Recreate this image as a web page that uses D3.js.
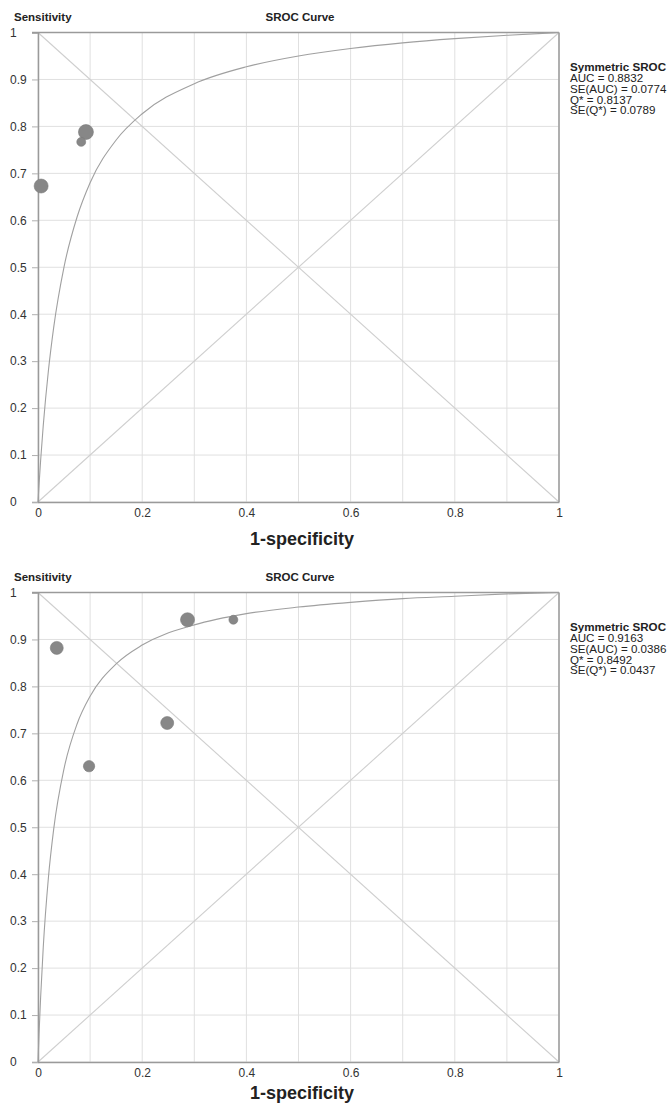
<!DOCTYPE html>
<html>
<head>
<meta charset="utf-8">
<script src="https://cdn.jsdelivr.net/npm/d3@7"></script>
<style>
  html, body { margin: 0; padding: 0; background: #fff; }
  svg { display: block; font-family: "Liberation Sans", Arial, sans-serif; }
</style>
</head>
<body>
<svg id="chart" width="670" height="1104"></svg>
<script>
// ---------- data ----------
const xTickValues = [0, 0.2, 0.4, 0.6, 0.8, 1];
const xTickLabels = ["0", "0.2", "0.4", "0.6", "0.8", "1"];
const yTickValues = [0, 0.1, 0.2, 0.3, 0.4, 0.5, 0.6, 0.7, 0.8, 0.9, 1];
const yTickLabels = ["0", "0.1", "0.2", "0.3", "0.4", "0.5", "0.6", "0.7", "0.8", "0.9", "1"];

const titleText = "SROC Curve";
const yAxisTitle = "Sensitivity";
const xAxisTitle = "1-specificity";
const legendTitle = "Symmetric SROC";

// SROC curve points (1-specificity, sensitivity)
const curveFpr  = [0, 0.002, 0.005, 0.01, 0.02, 0.03, 0.05, 0.075, 0.1, 0.15, 0.2, 0.3, 0.4, 0.5, 0.6, 0.7, 0.8, 0.9, 1];
const curve1Sens = [0, 0.037, 0.088, 0.162, 0.280, 0.371, 0.501, 0.607, 0.680, 0.771, 0.827, 0.891, 0.927, 0.950, 0.966, 0.978, 0.987, 0.994, 1];
const curve2Sens = [0, 0.060, 0.137, 0.243, 0.393, 0.495, 0.625, 0.720, 0.779, 0.848, 0.888, 0.931, 0.955, 0.969, 0.979, 0.987, 0.992, 0.997, 1];

// studies: 1-specificity, sensitivity, weight
const studies1Fpr    = [0.092, 0.083, 0.006];
const studies1Sens   = [0.788, 0.767, 0.673];
const studies1Weight = [56, 20, 49];

const studies2Fpr    = [0.036, 0.287, 0.375, 0.248, 0.098];
const studies2Sens   = [0.882, 0.942, 0.942, 0.722, 0.630];
const studies2Weight = [42, 49, 20, 42, 32];

const legend1Lines = ["AUC = 0.8832", "SE(AUC) = 0.0774", "Q* = 0.8137", "SE(Q*) = 0.0789"];
const legend2Lines = ["AUC = 0.9163", "SE(AUC) = 0.0386", "Q* = 0.8492", "SE(Q*) = 0.0437"];

// ---------- drawing ----------
const svg = d3.select("#chart");
svg.append("rect").attr("width", 670).attr("height", 1104).attr("fill", "#fff");

const rScale = d3.scaleSqrt().domain([0, 60]).range([0, 7.75]);
const FONT = "Liberation Sans, Arial, sans-serif";

function drawPanel(offsetY, curveSens, fpr, sens, weight, legendLines, xTitleY) {
  const left = 38, right = 559, top = 32.5, bottom = 502;
  const g = svg.append("g").attr("transform", `translate(0,${offsetY})`);
  const x = d3.scaleLinear().domain([0, 1]).range([left, right]);
  const y = d3.scaleLinear().domain([0, 1]).range([bottom, top]);

  // grid
  const grid = d3.range(0, 11).map(i => i / 10);
  g.append("g").selectAll("line").data(grid).join("line")
    .attr("x1", d => x(d)).attr("x2", d => x(d))
    .attr("y1", top).attr("y2", bottom)
    .attr("stroke", "#e0e0e0").attr("stroke-width", 1);
  g.append("g").selectAll("line").data(grid).join("line")
    .attr("x1", left).attr("x2", right)
    .attr("y1", d => y(d)).attr("y2", d => y(d))
    .attr("stroke", "#e0e0e0").attr("stroke-width", 1);

  // diagonals
  g.append("line").attr("x1", x(0)).attr("y1", y(0)).attr("x2", x(1)).attr("y2", y(1))
    .attr("stroke", "#cfcfcf").attr("stroke-width", 1.1);
  g.append("line").attr("x1", x(0)).attr("y1", y(1)).attr("x2", x(1)).attr("y2", y(0))
    .attr("stroke", "#cfcfcf").attr("stroke-width", 1.1);

  // y axis
  const yAxis = d3.axisLeft(y).tickValues(yTickValues)
    .tickFormat((d, i) => yTickLabels[i]).tickSize(6).tickPadding(0);
  const ya = g.append("g").attr("transform", `translate(${left},0)`).call(yAxis);
  ya.select(".domain").attr("stroke", "#9a9a9a").attr("stroke-width", 1.5);
  ya.selectAll(".tick line").attr("stroke", "#b0b0b0");
  ya.selectAll(".tick text")
    .attr("x", 10 - left).attr("text-anchor", "start")
    .attr("font-size", 12).attr("fill", "#333").attr("font-family", FONT);

  // x axis
  const xAxis = d3.axisBottom(x).tickValues(xTickValues)
    .tickFormat((d, i) => xTickLabels[i]).tickSize(0).tickPadding(6);
  const xa = g.append("g").attr("transform", `translate(0,${bottom})`).call(xAxis);
  xa.select(".domain").attr("stroke", "#9a9a9a").attr("stroke-width", 1.5);
  xa.selectAll(".tick text").attr("font-size", 12).attr("fill", "#333").attr("font-family", FONT);

  // top & right border
  g.append("line").attr("x1", left - 6).attr("x2", right).attr("y1", top).attr("y2", top)
    .attr("stroke", "#9a9a9a").attr("stroke-width", 1.5);
  g.append("line").attr("x1", right).attr("x2", right).attr("y1", top).attr("y2", bottom)
    .attr("stroke", "#9a9a9a").attr("stroke-width", 1.5);

  // curve
  const pts = curveFpr.map((f, i) => [f, curveSens[i]]);
  g.append("path").datum(pts)
    .attr("d", d3.line().x(d => x(d[0])).y(d => y(d[1])).curve(d3.curveMonotoneX))
    .attr("fill", "none").attr("stroke", "#a0a0a0").attr("stroke-width", 1.1);

  // study points
  const st = fpr.map((f, i) => ({ f, s: sens[i], w: weight[i] }));
  g.append("g").selectAll("circle").data(st).join("circle")
    .attr("cx", d => x(d.f)).attr("cy", d => y(d.s)).attr("r", d => rScale(d.w))
    .attr("fill", "#878787").attr("stroke", "#7a7a7a").attr("stroke-width", 0.6);

  // titles
  g.append("text").attr("x", 14).attr("y", 21).text(yAxisTitle)
    .attr("font-size", 11.5).attr("font-weight", "bold").attr("fill", "#222");
  g.append("text").attr("x", 300).attr("y", 21).attr("text-anchor", "middle").text(titleText)
    .attr("font-size", 11.5).attr("font-weight", "bold").attr("fill", "#222");
  g.append("text").attr("x", 302).attr("y", xTitleY).attr("text-anchor", "middle").text(xAxisTitle)
    .attr("font-size", 18).attr("font-weight", "bold").attr("fill", "#222");

  // legend
  const lg = g.append("g").attr("transform", "translate(570,0)");
  lg.append("text").attr("x", 0).attr("y", 71).text(legendTitle)
    .attr("font-size", 11.6).attr("font-weight", "bold").attr("fill", "#222");
  lg.selectAll("text.line").data(legendLines).join("text").attr("class", "line")
    .attr("x", 0).attr("y", (d, i) => 82 + i * 10.8).text(d => d)
    .attr("font-size", 11.6).attr("fill", "#222");
}

drawPanel(0, curve1Sens, studies1Fpr, studies1Sens, studies1Weight, legend1Lines, 545);
drawPanel(560, curve2Sens, studies2Fpr, studies2Sens, studies2Weight, legend2Lines, 539);
</script>
</body>
</html>
